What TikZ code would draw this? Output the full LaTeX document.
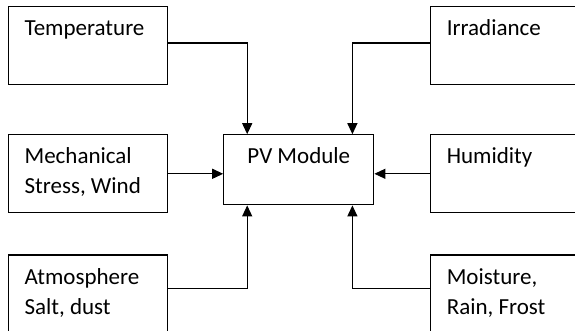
\documentclass[tikz,border=0pt]{standalone}
\usepackage{fontspec}
\setmainfont{Carlito}
\usetikzlibrary{arrows.meta,positioning}
\tikzset{
  factor/.style={rectangle,draw=black,line width=1.2pt,text width=127pt,inner xsep=16pt,inner ysep=0pt,
    text height=29pt,text depth=49pt,align=flush left,font=\fontsize{23}{30}\selectfont},
  module/.style={rectangle,draw=black,line width=1.2pt,minimum width=150pt,inner xsep=0pt,inner ysep=0pt,
    text height=29pt,text depth=41pt,align=center,font=\fontsize{23}{30}\selectfont},
  myarrow/.style={-{Triangle[length=11pt,width=10pt]},line width=1.2pt,black},
}
\begin{document}
\begin{tikzpicture}[node distance=49pt and 262pt]
  \useasboundingbox (0,0) rectangle (575pt,-331pt);
  \clip (0,0) rectangle (575pt,-331pt);
  \node[factor,anchor=north west] (temp) at (8pt,-6pt) {Temperature};
  \node[factor,below=of temp] (mech) {Mechanical\\Stress, Wind};
  \node[factor,below=41pt of mech,text depth=60pt] (atmo) {Atmosphere\\Salt, dust};
  \node[factor,right=of temp] (irr) {Irradiance};
  \node[factor,right=of mech] (hum) {Humidity};
  \node[factor,right=of atmo,text depth=60pt] (moist) {Moisture,\\Rain, Frost};
  \node[module,right=55pt of mech.north east,anchor=north west] (pv) {PV Module};
  \draw[myarrow] ([yshift=-37pt]temp.north east) -| ([xshift=24pt]pv.north west);
  \draw[myarrow] ([yshift=-37pt]irr.north west) -| ([xshift=-22pt]pv.north east);
  \draw[myarrow] (mech.east) -- (mech.east -| pv.west);
  \draw[myarrow] (hum.west) -- (hum.west -| pv.east);
  \draw[myarrow] ([yshift=-34pt]atmo.north east) -| ([xshift=24pt]pv.south west);
  \draw[myarrow] ([yshift=-34pt]moist.north west) -| ([xshift=-22pt]pv.south east);
\end{tikzpicture}
\end{document}
